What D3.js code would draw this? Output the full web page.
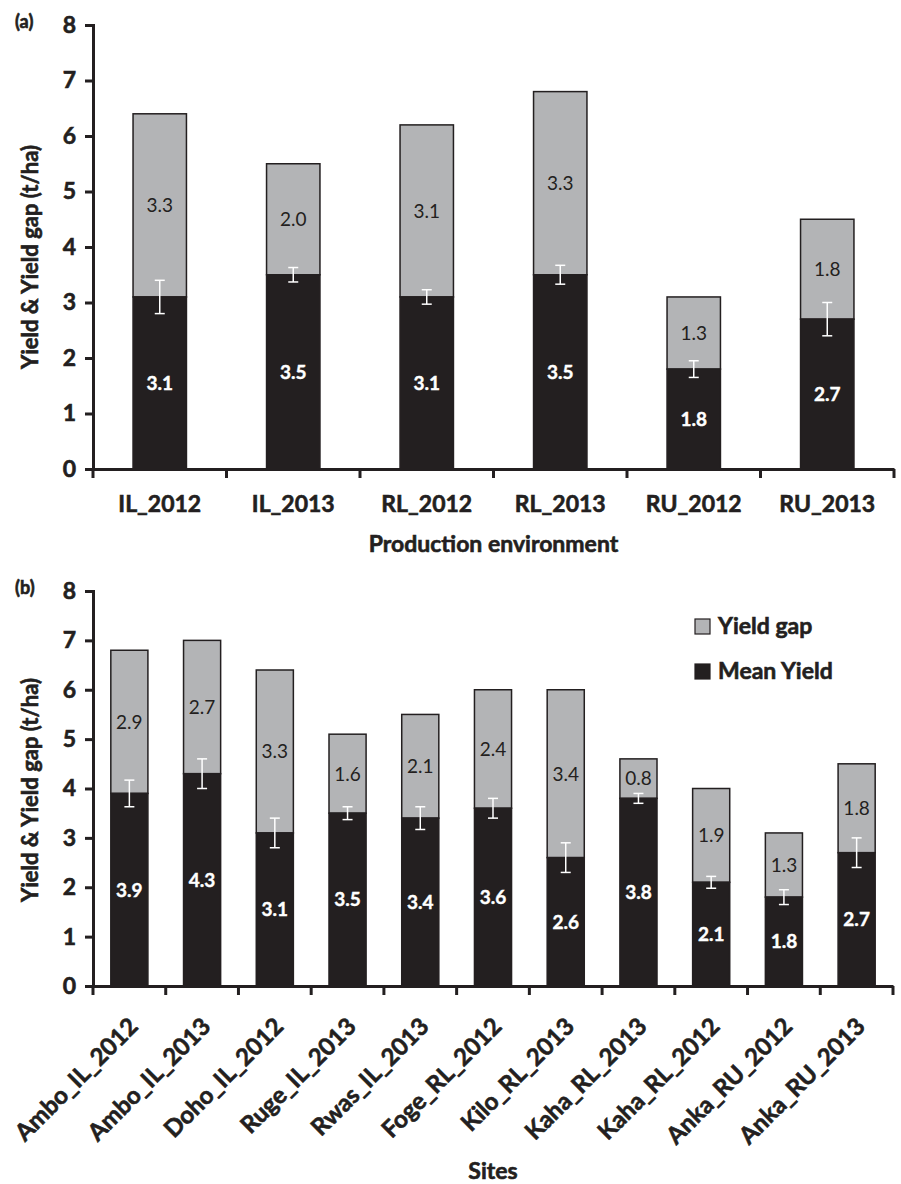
<!DOCTYPE html>
<html><head><meta charset="utf-8">
<script src="https://cdn.jsdelivr.net/npm/d3@7/dist/d3.min.js"></script>
<style>body{margin:0;background:#fff;} text{font-family:Lato,"Open Sans",sans-serif;}
.heavy{stroke:#231f20;stroke-width:0.6px;}
.heavyw{stroke:#fff;stroke-width:0.4px;}
</style>
</head><body>
<svg id="chart" width="901" height="1184"></svg>
<script>
// Panel (a): production environments
const envCategories = ["IL_2012","IL_2013","RL_2012","RL_2013","RU_2012","RU_2013"];
const envMeanYield  = [3.1, 3.5, 3.1, 3.5, 1.8, 2.7];
const envYieldGap   = [3.3, 2.0, 3.1, 3.3, 1.3, 1.8];
const envError      = [0.3, 0.13, 0.13, 0.17, 0.15, 0.3];

// Panel (b): sites
const siteCategories = ["Ambo_IL_2012","Ambo_IL_2013","Doho_IL_2012","Ruge_IL_2013","Rwas_IL_2013","Foge_RL_2012","Kilo_RL_2013","Kaha_RL_2013","Kaha_RL_2012","Anka_RU_2012","Anka_RU_2013"];
const siteMeanYield  = [3.9, 4.3, 3.1, 3.5, 3.4, 3.6, 2.6, 3.8, 2.1, 1.8, 2.7];
const siteYieldGap   = [2.9, 2.7, 3.3, 1.6, 2.1, 2.4, 3.4, 0.8, 1.9, 1.3, 1.8];
const siteError      = [0.27, 0.3, 0.3, 0.13, 0.23, 0.2, 0.3, 0.1, 0.12, 0.15, 0.3];

const yTicks = [0,1,2,3,4,5,6,7,8];
const seriesNames = ["Yield gap","Mean Yield"];

const INK = "#231f20", GRAY = "#b3b4b6";
const svg = d3.select("#chart");

function panel(opt){
  const g = svg.append("g");
  const x = d3.scaleBand().domain(opt.cats).range([opt.x0, opt.x1]).paddingInner(opt.pad).paddingOuter(opt.pad/2);
  const xt = d3.scaleBand().domain(opt.cats).range([opt.x0, opt.x1]);
  const y = d3.scaleLinear().domain([0,8]).range([opt.y0, opt.y1]);
  const rows = opt.cats.map((c,i)=>({c, m:opt.mean[i], gap:opt.gap[i], e:opt.err[i]}));

  g.selectAll(".gap").data(rows).join("rect")
    .attr("x", d=>x(d.c)).attr("width", x.bandwidth())
    .attr("y", d=>y(d.m+d.gap)).attr("height", d=>y(d.m)-y(d.m+d.gap))
    .attr("fill", GRAY).attr("stroke", INK).attr("stroke-width", 1.5);
  g.selectAll(".mean").data(rows).join("rect")
    .attr("x", d=>x(d.c)).attr("width", x.bandwidth())
    .attr("y", d=>y(d.m)).attr("height", d=>y(0)-y(d.m))
    .attr("fill", INK).attr("stroke", INK).attr("stroke-width", 1.5);

  const eb = g.selectAll(".eb").data(rows).join("g").attr("stroke","#fff").attr("stroke-width",1.5);
  const cx = d=>x(d.c)+x.bandwidth()/2;
  eb.append("line").attr("x1",cx).attr("x2",cx).attr("y1",d=>y(d.m-d.e)).attr("y2",d=>y(d.m+d.e));
  eb.append("line").attr("x1",d=>cx(d)-5).attr("x2",d=>cx(d)+5).attr("y1",d=>y(d.m-d.e)).attr("y2",d=>y(d.m-d.e));
  eb.append("line").attr("x1",d=>cx(d)-5).attr("x2",d=>cx(d)+5).attr("y1",d=>y(d.m+d.e)).attr("y2",d=>y(d.m+d.e));

  g.selectAll(".gl").data(rows).join("text")
    .attr("x", cx).attr("y", d=>y(d.m+d.gap/2)).attr("dy","0.36em")
    .attr("text-anchor","middle").attr("font-size",19).attr("fill",INK)
    .text(d=>d.gap.toFixed(1));
  g.selectAll(".ml").data(rows).join("text").attr("class","heavyw")
    .attr("x", cx).attr("y", d=>y(d.m/2)).attr("dy","0.36em")
    .attr("text-anchor","middle").attr("font-size",19).attr("font-weight","bold").attr("fill","#fff")
    .text(d=>d.m.toFixed(1));

  const ya = g.append("g").attr("transform",`translate(${opt.x0},0)`)
    .call(d3.axisLeft(y).tickValues(yTicks).tickSize(8).tickPadding(9).tickFormat(d3.format("d")));
  ya.select(".domain").attr("stroke",INK).attr("stroke-width",3);
  ya.selectAll(".tick line").attr("stroke",INK).attr("stroke-width",3);
  ya.selectAll("text").attr("class","heavy").attr("font-size",23).attr("font-weight","bold").attr("fill",INK)
    .style("font-family","Lato,sans-serif");

  const xa = g.append("g").attr("transform",`translate(0,${opt.y0})`)
    .call(d3.axisBottom(xt).tickSize(0).tickFormat(""));
  xa.select(".domain").attr("stroke",INK).attr("stroke-width",3);
  const bounds = opt.cats.map(c=>xt(c)).concat([opt.x1]);
  g.selectAll(".bt").data(bounds).join("line")
    .attr("x1",d=>d).attr("x2",d=>d).attr("y1",opt.y0).attr("y2",opt.y0+9)
    .attr("stroke",INK).attr("stroke-width",3);

  const lab = g.selectAll(".cl").data(opt.cats).join("text").attr("class","heavy")
    .attr("font-size",opt.labSize).attr("font-weight","bold").attr("fill",INK).text(d=>d);
  if(opt.rotate){
    lab.attr("text-anchor","end")
      .attr("transform",d=>`translate(${x(d)+x.bandwidth()/2+10},${opt.y0+42}) rotate(-45)`);
  } else {
    lab.attr("text-anchor","middle").attr("x",d=>x(d)+x.bandwidth()/2).attr("y",opt.y0+43);
  }

  g.append("text").attr("class","heavy").attr("x",(opt.x0+opt.x1)/2).attr("y",opt.xTitleY).attr("text-anchor","middle")
    .attr("font-size",23).attr("font-weight","bold").attr("fill",INK).text(opt.xTitle);
  g.append("text").attr("class","heavy").attr("transform",`translate(38,${opt.yTitleC}) rotate(-90)`).attr("text-anchor","middle")
    .attr("font-size",22).attr("font-weight","bold").attr("fill",INK).text("Yield & Yield gap (t/ha)");
  g.append("text").attr("class","heavy").attr("x",15).attr("y",opt.y1+3).attr("font-size",18).attr("font-weight","bold")
    .attr("fill",INK).text(opt.tag);
  return {g,x,y};
}

panel({cats:envCategories, mean:envMeanYield, gap:envYieldGap, err:envError,
  x0:93, x1:894, y0:469, y1:25, pad:0.6, labSize:23, rotate:false,
  xTitle:"Production environment", xTitleY:552, yTitleC:257, tag:"(a)"});

const pb = panel({cats:siteCategories, mean:siteMeanYield, gap:siteYieldGap, err:siteError,
  x0:93, x1:893, y0:986, y1:591, pad:0.49, labSize:24, rotate:true,
  xTitle:"Sites", xTitleY:1179, yTitleC:790, tag:"(b)"});

const lg = pb.g.append("g");
const legendFill = [GRAY, INK];
seriesNames.forEach((s,i)=>{
  const yy = 619 + i*45;
  lg.append("rect").attr("x",695).attr("y",yy).attr("width",15).attr("height",15)
    .attr("fill",legendFill[i]).attr("stroke",INK).attr("stroke-width",1.2);
  lg.append("text").attr("class","heavy").attr("x",718).attr("y",yy+15).attr("font-size",23).attr("font-weight","bold")
    .attr("fill",INK).text(s);
});
</script>
</body></html>
